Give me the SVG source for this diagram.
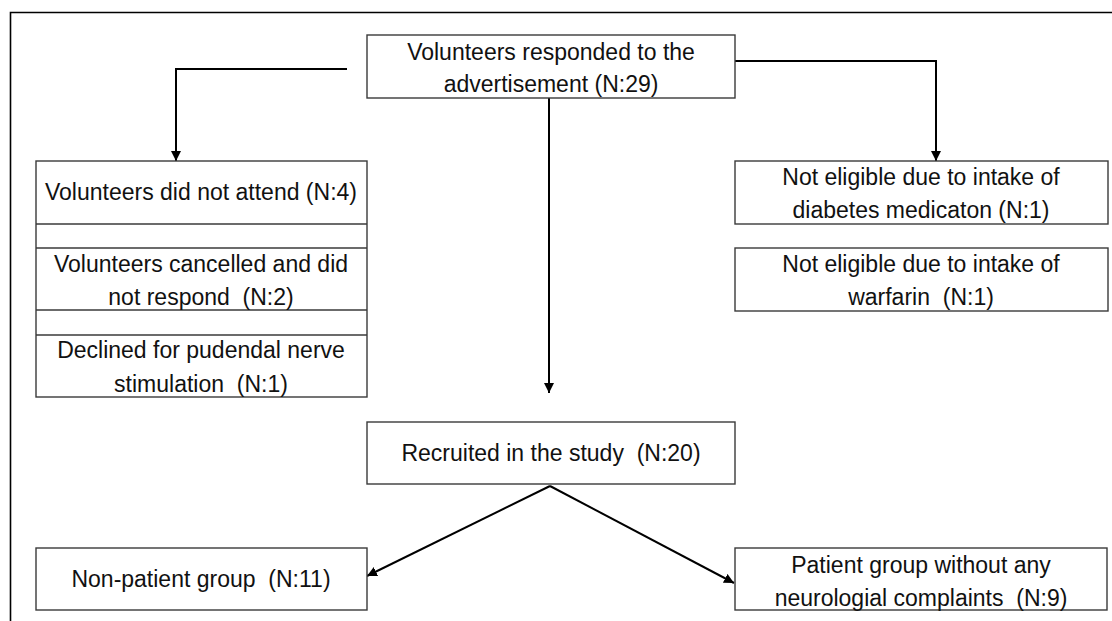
<svg xmlns="http://www.w3.org/2000/svg" width="1112" height="621" viewBox="0 0 1112 621">
<style>
.box{fill:#fff;stroke:#3a3a3a;stroke-width:1.4}
.t{font-family:"Liberation Sans",Arial,sans-serif;font-size:23px;fill:#111;text-anchor:middle;white-space:pre}
.c{fill:none;stroke:#000;stroke-width:2}
</style>
<defs>
<marker id="ah" viewBox="0 0 10 10" refX="10" refY="5" markerWidth="5" markerHeight="5" orient="auto" markerUnits="strokeWidth">
<path d="M0,0 L10,5 L0,10 z" fill="#000"/>
</marker>
</defs>
<rect width="1112" height="621" fill="#fff"/>
<path d="M10.5,621 V12.5 H1112" fill="none" stroke="#000" stroke-width="1.6"/>
<g id="connectors">
<path class="c" d="M347,69 H176 V161" marker-end="url(#ah)"/>
<path class="c" d="M735,61 H936 V161" marker-end="url(#ah)"/>
<path class="c" d="M549,98 V393" marker-end="url(#ah)"/>
<path class="c" d="M550,486 L367,576" marker-end="url(#ah)"/>
<path class="c" d="M550,486 L734,583" marker-end="url(#ah)"/>
</g>
<g id="n-responded">
<rect class="box" x="367" y="35" width="368" height="63"/>
<text class="t" x="551" y="60">Volunteers responded to the</text>
<text class="t" x="551" y="92">advertisement (N:29)</text>
</g>
<g id="n-left-stack">
<rect class="box" x="36" y="161" width="331" height="236"/>
<line class="box" x1="36" y1="224" x2="367" y2="224"/>
<line class="box" x1="36" y1="248" x2="367" y2="248"/>
<line class="box" x1="36" y1="310" x2="367" y2="310"/>
<line class="box" x1="36" y1="335" x2="367" y2="335"/>
</g>
<g id="n-notattend">
<text class="t" x="201" y="200">Volunteers did not attend (N:4)</text>
</g>
<g id="n-cancelled">
<text class="t" x="201" y="272">Volunteers cancelled and did</text>
<text class="t" x="201" y="305">not respond  (N:2)</text>
</g>
<g id="n-declined">
<text class="t" x="201" y="358">Declined for pudendal nerve</text>
<text class="t" x="201" y="392">stimulation  (N:1)</text>
</g>
<g id="n-diabetes">
<rect class="box" x="735" y="161" width="373" height="63"/>
<text class="t" x="921" y="185">Not eligible due to intake of</text>
<text class="t" x="921" y="218">diabetes medicaton (N:1)</text>
</g>
<g id="n-warfarin">
<rect class="box" x="735" y="248" width="373" height="63"/>
<text class="t" x="921" y="272">Not eligible due to intake of</text>
<text class="t" x="921" y="305">warfarin  (N:1)</text>
</g>
<g id="n-recruited">
<rect class="box" x="367" y="422" width="368" height="62"/>
<text class="t" x="551" y="461">Recruited in the study  (N:20)</text>
</g>
<g id="n-nonpatient">
<rect class="box" x="36" y="548" width="331" height="62"/>
<text class="t" x="201" y="587">Non-patient group  (N:11)</text>
</g>
<g id="n-patient">
<rect class="box" x="735" y="548" width="372" height="62"/>
<text class="t" x="921" y="573">Patient group without any</text>
<text class="t" x="921" y="606">neurologial complaints  (N:9)</text>
</g>
</svg>
